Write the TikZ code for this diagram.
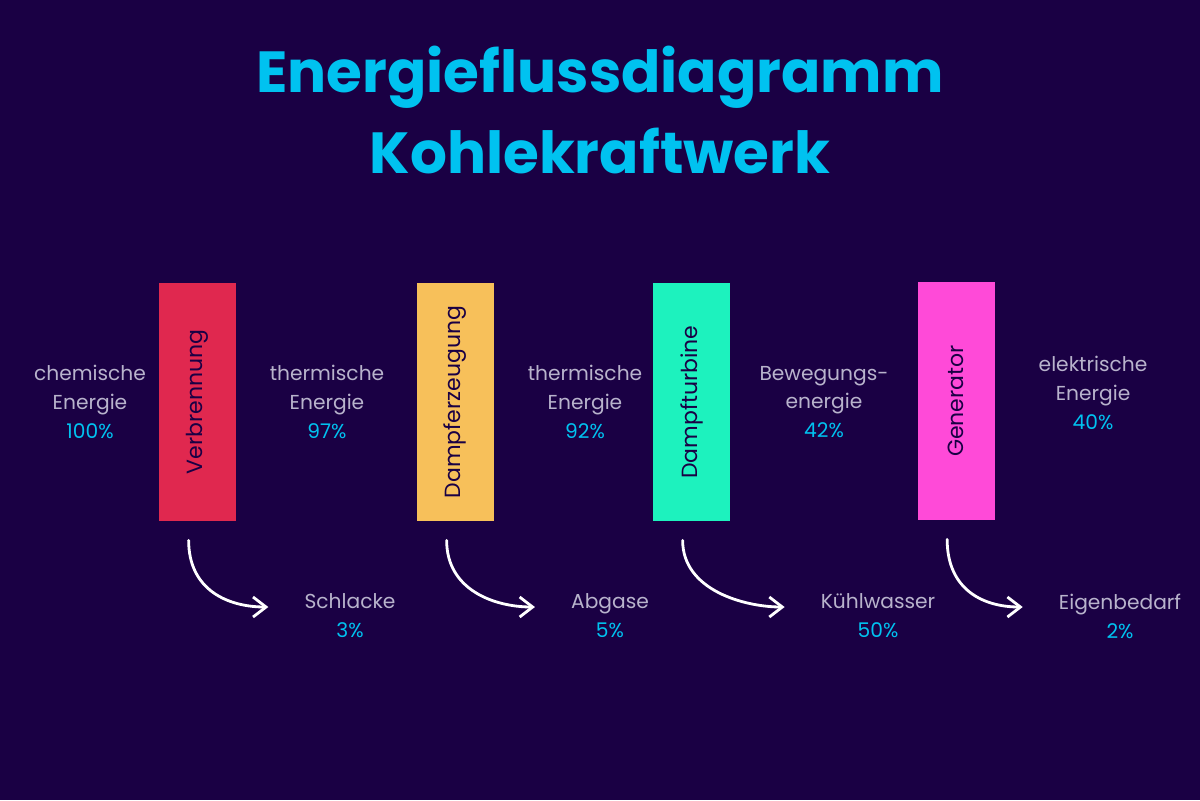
\documentclass[tikz,border=0pt]{standalone}
\usepackage{fontspec}
\setmainfont{Poppins}
\usepackage{xcolor}
\usetikzlibrary{arrows.meta,positioning,calc}
\definecolor{bgdark}{HTML}{1A0044}
\definecolor{titlecyan}{HTML}{00C2F0}
\definecolor{greytext}{HTML}{B8B3CC}
\definecolor{verbred}{HTML}{E0284F}
\definecolor{dampforange}{HTML}{F7C05A}
\definecolor{turbteal}{HTML}{1DF2BE}
\definecolor{genpink}{HTML}{FF4AD8}
\newcommand{\pct}[1]{\\\textcolor{titlecyan}{#1}}

\begin{document}
\begin{tikzpicture}[
      x=0.2mm, y=-0.2mm,
      stage/.style={minimum width=15.4mm, minimum height=47.6mm, inner sep=0pt,
        font=\fontsize{12.5}{14}\selectfont, text=bgdark},
      flow/.style={align=center, text=greytext, font=\fontsize{11.5}{16.4}\selectfont},
      loss/.style={-{Straight Barb[length=2.6mm,width=4mm]}, draw=white, line width=1.6pt, line cap=round}
    ]
      \fill[bgdark] (0,0) rectangle (1200,800);
      \node[text=titlecyan, align=center, font=\fontsize{33}{46}\selectfont\bfseries] (title) at (600,110)
        {Energieflussdiagramm\\Kohlekraftwerk};
      % stages
      \node[stage, fill=verbred] (verb) at (197.5,402) {\rotatebox{90}{Verbrennung}};
      \node[stage, fill=dampforange] (dampf) at (455.5,402) {\rotatebox{90}{Dampferzeugung}};
      \node[stage, fill=turbteal] (turb) at (691.5,402) {\rotatebox{90}{Dampfturbine}};
      \node[stage, fill=genpink] (gen) at (956,401) {\rotatebox{90}{Generator}};
      % energy between stages
      \node[flow] (chem) at (90,402) {chemische\\Energie\pct{100\%}};
      \node[flow] (therm1) at (327,402) {thermische\\Energie\pct{97\%}};
      \node[flow] (therm2) at (585,402) {thermische\\Energie\pct{92\%}};
      \node[flow] (beweg) at (824,402) {Bewegungs-\\energie\pct{42\%}};
      \node[flow] (elek) at (1093,393) {elektrische\\Energie\pct{40\%}};
      % losses
      \node[flow] (schlacke) at (350,616) {Schlacke\pct{3\%}};
      \node[flow] (abgase) at (610,616) {Abgase\pct{5\%}};
      \node[flow] (kuehl) at (878,616) {Kühlwasser\pct{50\%}};
      \node[flow] (eigen) at (1120,616) {Eigenbedarf\pct{2\%}};
      \foreach \s/\l in {verb/schlacke, dampf/abgase, turb/kuehl, gen/eigen} {
        \coordinate (a) at ($(\s.south west)+(30,19)$);
        \coordinate (b) at ($(\l.west)+(-30,-9)$);
        \draw[loss] (a) .. controls ($(a)+(0,50)$) and ($(b)+(-40,0)$) .. (b);
      }
    \end{tikzpicture}
\end{document}
